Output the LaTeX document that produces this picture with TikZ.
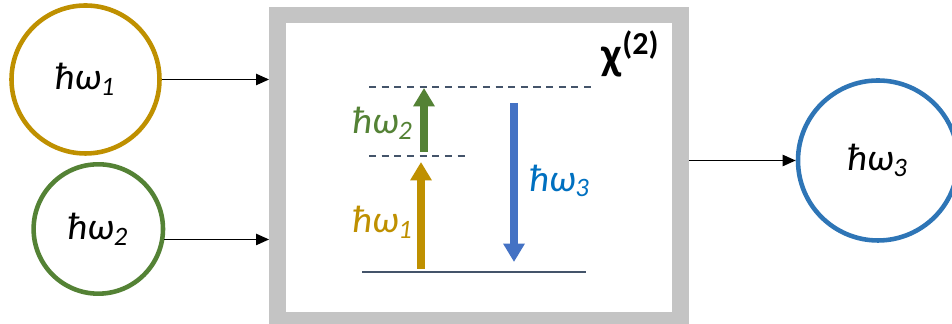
\documentclass[tikz,border=0pt]{standalone}
\usepackage{fontspec}
\setmainfont{Carlito}
\usetikzlibrary{arrows.meta}
\definecolor{gold}{RGB}{191,144,0}
\definecolor{leaf}{RGB}{84,130,53}
\definecolor{sky}{RGB}{46,117,182}
\definecolor{arrowblue}{RGB}{68,114,196}
\definecolor{textblue}{RGB}{0,112,192}
\definecolor{slate}{RGB}{68,84,106}
\definecolor{frame}{RGB}{196,196,196}

\begin{document}
\begin{tikzpicture}[
  >={Triangle[length=3.7pt,width=3.2pt]},
  photon/.style={circle,draw,line width=1.3pt,inner sep=0pt,
    font=\fontsize{10.8}{12}\selectfont\itshape},
  level/.style={slate,line width=0.45pt},
  virtual/.style={level,dash pattern=on 2pt off 1.6pt},
  jump/.style={line width=2pt,-{Triangle[length=5.2pt,width=5.8pt]}},
  tag/.style={font=\fontsize{10.8}{12}\selectfont\itshape},
]
  \useasboundingbox (0,0) rectangle (9.52,3.24);
  \node[photon,gold,minimum size=1.48cm] (w1) at (0.855,2.445)
    {\textcolor{black}{ħω\textsubscript{1}}};
  \node[photon,leaf,minimum size=1.294cm] (w2) at (0.983,0.95)
    {\textcolor{black}{ħω\textsubscript{2}}};
  \node[photon,sky,minimum size=1.60cm] (w3) at (8.78,1.635)
    {\textcolor{black}{ħω\textsubscript{3}}};
  \node[draw=frame,fill=white,line width=4.8pt,
    minimum width=4.03cm,minimum height=3.05cm] (box) at (4.79,1.565) {};
  \draw[->,line width=0.45pt] (w1.east) -- (w1.east -| box.west);
  \draw[->,line width=0.45pt] (w2.-9) -- (w2.-9 -| box.west);
  \draw[->,line width=0.45pt] (box.east |- w3.west) -- (w3.west);
  \coordinate (g) at (3.62,0.52);
  \coordinate (v1) at (3.69,1.68);
  \coordinate (v2) at (3.69,2.37);
  \draw[level] (g) -- ++(2.24,0);
  \draw[virtual] (v1) -- ++(1.01,0);
  \draw[virtual] (v2) -- ++(2.22,0);
  \draw[jump,gold] (4.21,0.55) -- (4.21,1.62);
  \draw[jump,leaf] (4.24,1.72) -- (4.24,2.36);
  \draw[jump,arrowblue] (5.14,2.21) -- (5.14,0.62);
  \node[tag,gold] (t1) at (3.83,1.02) {ħω\textsubscript{1}};
  \node[tag,leaf] (t2) at (3.83,2.01) {ħω\textsubscript{2}};
  \node[tag,textblue] (t3) at (5.60,1.43) {ħω\textsubscript{3}};
  \node[font=\fontsize{13}{15}\selectfont\bfseries] (chi) at (6.31,2.70)
    {χ\textsuperscript{(2)}};
\end{tikzpicture}
\end{document}
